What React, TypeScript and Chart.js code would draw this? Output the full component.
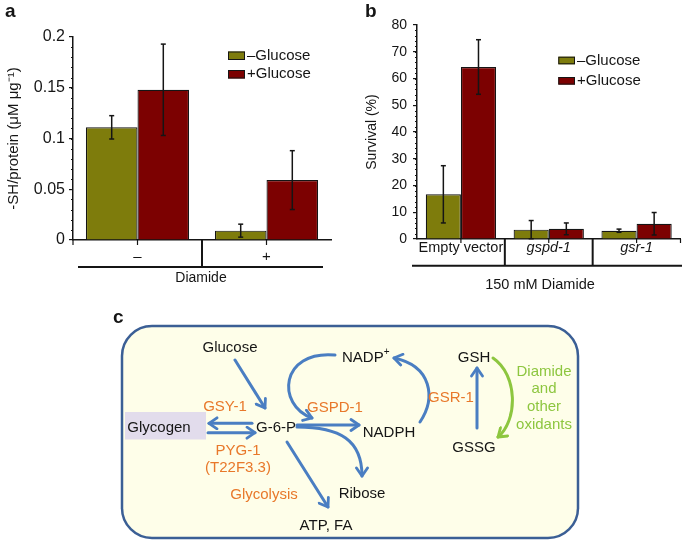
import React, { useEffect, useRef } from 'react';
import { Chart, registerables } from 'chart.js';

Chart.register(...registerables);

const FONT = "'Liberation Sans', Arial, Helvetica, sans-serif";
const INK = '#151515';
const OLIVE = '#7e7c0c';
const MAROON = '#7c0101';
const BLUE = '#4a7ec2';
const GREEN = '#8dc63f';
const ORANGE = '#e8782a';

// ---- Panel a data ----
const diamideLevels = ['\u2013', '+'];
const thiolMinusGlucose = [0.111, 0.0092];
const thiolMinusGlucoseErr = [0.0115, 0.0064];
const thiolPlusGlucose = [0.148, 0.059];
const thiolPlusGlucoseErr = [0.045, 0.029];
const thiolTicks = [0, 0.05, 0.1, 0.15, 0.2];

// ---- Panel b data ----
const strains = ['Empty vector', 'gspd-1', 'gsr-1'];
const survivalMinusGlucose = [16.7, 3.5, 3.1];
const survivalMinusGlucoseErr = [10.7, 3.4, 0.6];
const survivalPlusGlucose = [64.3, 3.8, 5.7];
const survivalPlusGlucoseErr = [10.2, 2.2, 4.2];
const survivalTicks = [0, 10, 20, 30, 40, 50, 60, 70, 80];

const seriesLabels = ['\u2013Glucose', '+Glucose'];

function line(ctx: CanvasRenderingContext2D, x1: number, y1: number, x2: number, y2: number) {
  ctx.beginPath();
  ctx.moveTo(x1, y1);
  ctx.lineTo(x2, y2);
  ctx.stroke();
}

const decorPlugin = {
  id: 'decor',
  afterDraw(chart: any, _args: any, o: any) {
    const { ctx, chartArea: ca, scales } = chart;
    const xs = scales.x;
    const ys = scales.y;
    ctx.save();
    ctx.strokeStyle = INK;
    ctx.fillStyle = INK;

    // minor y ticks
    ctx.lineWidth = 1;
    const n = Math.round((ys.max - ys.min) / o.minorStep);
    for (let k = 1; k < n; k++) {
      const py = Math.round(ys.getPixelForValue(ys.min + k * o.minorStep)) + 0.5;
      line(ctx, ca.left, py, ca.left - o.minorLen, py);
    }

    // x ticks at category centres
    const count = chart.data.labels.length;
    const centers: number[] = [];
    for (let i = 0; i < count; i++) centers.push(xs.getPixelForValue(i));
    ctx.lineWidth = 1.2;
    centers.forEach((cx) => line(ctx, cx, ca.bottom, cx, ca.bottom + o.tickLen));
    if (o.tickLeftEnd) line(ctx, ca.left, ca.bottom, ca.left, ca.bottom + o.tickLen);
    if (o.tickRightEnd) line(ctx, ca.right, ca.bottom, ca.right, ca.bottom + o.tickLen);

    // separators and group line
    ctx.lineWidth = 2;
    for (let i = 0; i < count - 1; i++) {
      const bx = (centers[i] + centers[i + 1]) / 2;
      line(ctx, bx, ca.bottom, bx, o.groupLineY);
    }
    line(ctx, ca.left + o.lineFrom, o.groupLineY, ca.right + o.lineTo, o.groupLineY);

    // group title
    ctx.font = `${o.titleSize}px ${FONT}`;
    ctx.textAlign = 'center';
    ctx.textBaseline = 'middle';
    ctx.fillText(o.groupTitle, o.groupTitleX, o.groupTitleY);

    // error bars
    ctx.lineWidth = 1.5;
    chart.data.datasets.forEach((ds: any, di: number) => {
      const meta = chart.getDatasetMeta(di);
      meta.data.forEach((bar: any, i: number) => {
        const v = ds.data[i];
        const e = ds.errors[i];
        const yt = ys.getPixelForValue(v + e);
        const yb = ys.getPixelForValue(Math.max(0, v - e));
        line(ctx, bar.x, yt, bar.x, yb);
        line(ctx, bar.x - o.capHalf, yt, bar.x + o.capHalf, yt);
        line(ctx, bar.x - o.capHalf, yb, bar.x + o.capHalf, yb);
      });
    });

    // legend
    const L = o.legend;
    chart.data.datasets.forEach((ds: any, i: number) => {
      const by = L.y + i * L.gap;
      ctx.fillStyle = ds.backgroundColor;
      ctx.fillRect(L.x, by, L.w, L.h);
      ctx.lineWidth = 1;
      ctx.strokeStyle = INK;
      ctx.strokeRect(L.x + 0.5, by + 0.5, L.w - 1, L.h - 1);
      ctx.fillStyle = INK;
      ctx.font = `${L.size}px ${FONT}`;
      ctx.textAlign = 'left';
      ctx.textBaseline = 'middle';
      ctx.fillText(ds.label, L.textX, by + L.h / 2);
    });

    // panel letter
    ctx.font = `bold 19px ${FONT}`;
    ctx.textAlign = 'left';
    ctx.textBaseline = 'alphabetic';
    ctx.fillText(o.letter, o.letterX, o.letterY);
    ctx.restore();
  },
};

function barDataset(label: string, data: number[], errors: number[], color: string) {
  return {
    label,
    data,
    errors,
    backgroundColor: color,
    borderColor: INK,
    borderWidth: 1.2,
    barPercentage: 1,
    categoryPercentage: 0.8,
  };
}

function makeChartA(canvas: HTMLCanvasElement) {
  return new Chart(canvas, {
    type: 'bar',
    data: {
      labels: diamideLevels,
      datasets: [
        barDataset(seriesLabels[0], thiolMinusGlucose, thiolMinusGlucoseErr, OLIVE),
        barDataset(seriesLabels[1], thiolPlusGlucose, thiolPlusGlucoseErr, MAROON),
      ] as any,
    },
    options: {
      responsive: false,
      animation: false,
      events: [],
      layout: { padding: { top: 37, right: 9, left: 0, bottom: 0 } },
      plugins: {
        legend: { display: false },
        tooltip: { enabled: false },
        decor: {
          minorStep: 0.01,
          minorLen: 2,
          tickLen: 5,
          tickLeftEnd: true,
          tickRightEnd: false,
          groupLineY: 267,
          lineFrom: 5,
          lineTo: -8,
          groupTitle: 'Diamide',
          groupTitleX: 201,
          groupTitleY: 278,
          titleSize: 14,
          capHalf: 2.5,
          legend: { x: 228, y: 51.5, w: 17, h: 8.5, gap: 18.5, textX: 247, size: 15 },
          letter: 'a',
          letterX: 5,
          letterY: 17,
        },
      } as any,
      scales: {
        x: {
          grid: { display: false, drawTicks: false, drawOnChartArea: false },
          border: { display: true, color: INK, width: 1.5 },
          ticks: { color: INK, font: { size: 15, family: FONT, lineHeight: 1.2 }, padding: 8, maxRotation: 0, minRotation: 0, autoSkip: false },
          afterFit: (s: any) => { s.height = 50; },
        },
        y: {
          min: 0,
          max: 0.2,
          afterBuildTicks: (s: any) => { s.ticks = thiolTicks.map((v) => ({ value: v })); },
          ticks: { color: INK, font: { size: 16, family: FONT }, padding: 4, callback: (v: any) => String(v) },
          grid: { drawOnChartArea: false, drawTicks: true, tickLength: 4, color: INK, lineWidth: 1.2 },
          border: { display: true, color: INK, width: 1.5 },
          title: {
            display: true,
            text: '-SH/protein (\u03bcM \u03bcg\u207b\u00b9)',
            color: INK,
            font: { size: 15, family: FONT },
            padding: { top: 5, bottom: 0 },
          },
          afterFit: (s: any) => { s.width = 73; },
        },
      } as any,
    },
    plugins: [decorPlugin],
  });
}

function makeChartB(canvas: HTMLCanvasElement) {
  return new Chart(canvas, {
    type: 'bar',
    data: {
      labels: strains,
      datasets: [
        barDataset(seriesLabels[0], survivalMinusGlucose, survivalMinusGlucoseErr, OLIVE),
        barDataset(seriesLabels[1], survivalPlusGlucose, survivalPlusGlucoseErr, MAROON),
      ] as any,
    },
    options: {
      responsive: false,
      animation: false,
      events: [],
      layout: { padding: { top: 25, right: 4.5, left: 0, bottom: 0 } },
      plugins: {
        legend: { display: false },
        tooltip: { enabled: false },
        decor: {
          minorStep: 2,
          minorLen: 2,
          tickLen: 4,
          tickLeftEnd: false,
          tickRightEnd: true,
          groupLineY: 265.7,
          lineFrom: -5,
          lineTo: 1.5,
          groupTitle: '150 mM Diamide',
          groupTitleX: 200,
          groupTitleY: 285,
          titleSize: 14.5,
          capHalf: 2.5,
          legend: { x: 218.3, y: 56.7, w: 16.7, h: 7.6, gap: 20.3, textX: 237, size: 15 },
          letter: 'b',
          letterX: 25,
          letterY: 17,
        },
      } as any,
      scales: {
        x: {
          grid: { display: false, drawTicks: false, drawOnChartArea: false },
          border: { display: true, color: INK, width: 1.5 },
          ticks: {
            color: INK,
            font: (c: any) => ({ size: 14.5, family: FONT, lineHeight: 1, style: c.index > 0 ? 'italic' : 'normal' }),
            padding: 1.5,
            maxRotation: 0,
            minRotation: 0,
            autoSkip: false,
          },
          afterFit: (s: any) => { s.height = 51; },
        },
        y: {
          min: 0,
          max: 80,
          afterBuildTicks: (s: any) => { s.ticks = survivalTicks.map((v) => ({ value: v })); },
          ticks: { color: INK, font: { size: 14, family: FONT }, padding: 6, callback: (v: any) => String(v) },
          grid: { drawOnChartArea: false, drawTicks: true, tickLength: 4, color: INK, lineWidth: 1.2 },
          border: { display: true, color: INK, width: 1.5 },
          title: {
            display: true,
            text: 'Survival (%)',
            color: INK,
            font: { size: 14, family: FONT },
            padding: { top: 23.3, bottom: 0 },
          },
          afterFit: (s: any) => { s.width = 77; },
        },
      } as any,
    },
    plugins: [decorPlugin],
  });
}

const txt = { fontFamily: FONT, fontSize: 15 } as const;

function Diagram() {
  const blue = { fill: 'none', stroke: BLUE, strokeWidth: 3, markerEnd: 'url(#headBlue)', strokeLinecap: 'round' as const };
  return (
    <svg width={685} height={540} style={{ position: 'absolute', left: 0, top: 0, pointerEvents: 'none' }}>
      <defs>
        <marker id="headBlue" viewBox="0 0 14 14" refX="11" refY="7" markerWidth="14" markerHeight="14" markerUnits="userSpaceOnUse" orient="auto">
          <path d="M3,1.5 L11,7 L3,12.5" fill="none" stroke={BLUE} strokeWidth="2.8" strokeLinecap="round" strokeLinejoin="round" />
        </marker>
        <marker id="headGreen" viewBox="0 0 14 14" refX="11" refY="7" markerWidth="14" markerHeight="14" markerUnits="userSpaceOnUse" orient="auto">
          <path d="M3,1.5 L11,7 L3,12.5" fill="none" stroke={GREEN} strokeWidth="2.8" strokeLinecap="round" strokeLinejoin="round" />
        </marker>
      </defs>
      <text x={113} y={323} style={{ fontFamily: FONT, fontSize: 19, fontWeight: 'bold' }} fill={INK}>c</text>
      <rect x={122} y={326} width={456} height={212} rx={30} ry={30} fill="#fefee9" stroke="#3b5f95" strokeWidth={2.5} />
      <rect x={125} y={412} width={81} height={27.5} fill="#e2dcec" />

      {/* arrows */}
      <path d="M235,360 L265,408" {...blue} />
      <path d="M252,423.3 L209,423.3" {...blue} />
      <path d="M208,432.7 L255,432.7" {...blue} />
      <path d="M297,425 L359,425" {...blue} />
      <path d="M297,427 C340,427 362,440 362,476" {...blue} />
      <path d="M287,442 L328,507" {...blue} />
      <path d="M335,355 C280,350 276,405 312,418" {...blue} />
      <path d="M420,422 C436,398 432,366 394,358" {...blue} />
      <path d="M477,428 L477,368" {...blue} />
      <path d="M493,358 C518,375 518,420 498,437" fill="none" stroke={GREEN} strokeWidth={3} strokeLinecap="round" markerEnd="url(#headGreen)" />

      {/* labels */}
      <g style={txt} fill={INK} textAnchor="middle" dominantBaseline="central">
        <text x={230} y={346}>Glucose</text>
        <text x={159} y={426.5}>Glycogen</text>
        <text x={276} y={426.5}>G-6-P</text>
        <text x={389} y={431.5}>NADPH</text>
        <text x={362} y={492}>Ribose</text>
        <text x={326} y={524}>ATP, FA</text>
        <text x={474} y={356}>GSH</text>
        <text x={474} y={446}>GSSG</text>
      </g>
      <text x={342} y={356} style={txt} fill={INK} dominantBaseline="central">
        NADP<tspan fontSize={10} dy={-5}>+</tspan>
      </text>
      <g style={txt} fill={ORANGE} textAnchor="middle" dominantBaseline="central">
        <text x={225} y={405.5}>GSY-1</text>
        <text x={335} y={406.5}>GSPD-1</text>
        <text x={238} y={449}>PYG-1</text>
        <text x={238} y={466.5}>(T22F3.3)</text>
        <text x={264} y={493}>Glycolysis</text>
        <text x={451} y={396.5}>GSR-1</text>
      </g>
      <g style={txt} fill={GREEN} textAnchor="middle" dominantBaseline="central">
        <text x={544} y={370}>Diamide</text>
        <text x={544} y={387.7}>and</text>
        <text x={544} y={405.5}>other</text>
        <text x={544} y={423.3}>oxidants</text>
      </g>
    </svg>
  );
}

export default function App() {
  const refA = useRef<HTMLCanvasElement>(null);
  const refB = useRef<HTMLCanvasElement>(null);

  useEffect(() => {
    const a = makeChartA(refA.current!);
    const b = makeChartB(refB.current!);
    return () => {
      a.destroy();
      b.destroy();
    };
  }, []);

  return (
    <div style={{ position: 'absolute', left: 0, top: 0, width: 685, height: 540, background: '#fff', overflow: 'hidden' }}>
      <canvas ref={refA} width={340} height={290} style={{ position: 'absolute', left: 0, top: 0 }} />
      <canvas ref={refB} width={345} height={290} style={{ position: 'absolute', left: 340, top: 0 }} />
      <Diagram />
    </div>
  );
}
